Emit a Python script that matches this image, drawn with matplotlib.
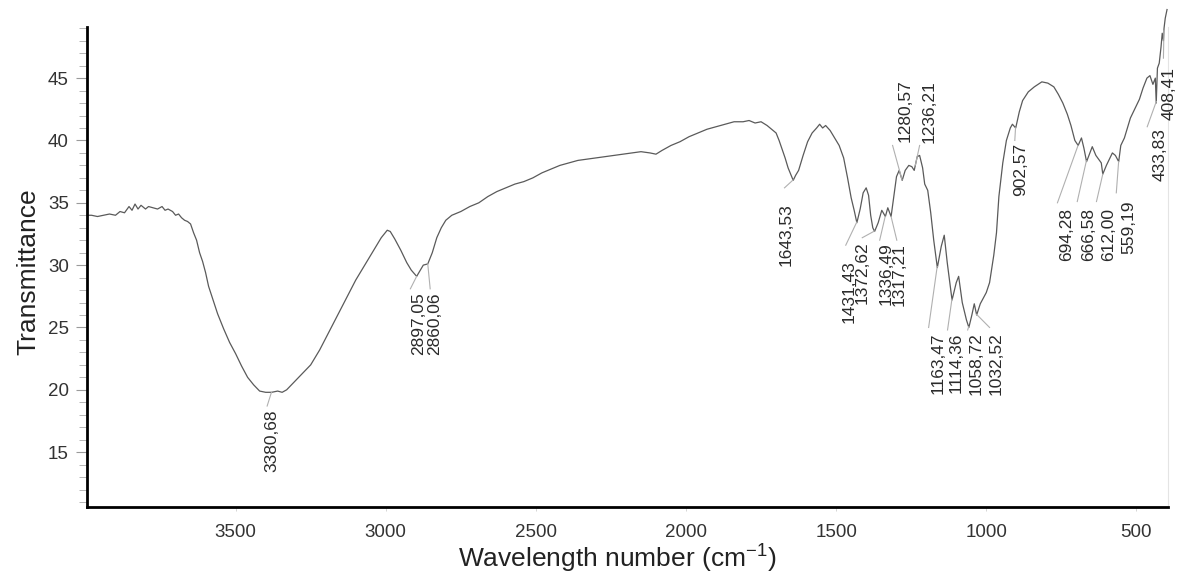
import numpy as np
import matplotlib
matplotlib.use("Agg")
import matplotlib.pyplot as plt
from matplotlib.ticker import MultipleLocator

plt.rcParams["font.family"] = ["Liberation Sans", "DejaVu Sans"]
plt.rcParams["mathtext.default"] = "regular"

# -----------------------------
# Spectrum
# -----------------------------
wavenumber = [
    3995, 3980, 3960, 3940, 3920, 3900, 3885, 3870, 3855, 3845, 3835, 3825, 3815, 3800,
    3790, 3775, 3760, 3745, 3735, 3725, 3710, 3700, 3690, 3680, 3670, 3660, 3650, 3640,
    3630, 3620, 3610, 3600, 3590, 3575, 3560, 3540, 3520, 3500, 3480, 3460, 3440, 3420,
    3400, 3380, 3360, 3345, 3330, 3310, 3290, 3270, 3250, 3220, 3190, 3160, 3130, 3100,
    3070, 3040, 3015, 2995, 2985, 2970, 2950, 2930, 2915, 2897, 2885, 2875, 2860, 2845,
    2830, 2815, 2800, 2780, 2750, 2720, 2690, 2660, 2630, 2600, 2570, 2540, 2510, 2480,
    2450, 2420, 2390, 2360, 2330, 2300, 2270, 2240, 2210, 2180, 2150, 2120, 2100, 2080,
    2050, 2020, 1990, 1960, 1930, 1900, 1870, 1840, 1810, 1790, 1770, 1750, 1730, 1715,
    1700, 1690, 1680, 1670, 1660, 1650, 1643, 1635, 1625, 1610, 1595, 1580, 1565, 1555,
    1545, 1535, 1520, 1505, 1490, 1475, 1462, 1450, 1440, 1431, 1420, 1410, 1400, 1392,
    1385, 1378, 1372, 1360, 1348, 1336, 1328, 1317, 1308, 1299, 1290, 1280, 1270, 1258,
    1248, 1240, 1230, 1222, 1212, 1205, 1195, 1185, 1175, 1163, 1150, 1140, 1130, 1114,
    1100, 1092, 1080, 1066, 1058, 1048, 1040, 1032, 1020, 1000, 989, 975, 966, 958,
    945, 933, 920, 913, 902, 890, 879, 860, 840, 815, 795, 775, 760, 745,
    730, 718, 705, 694, 683, 675, 666, 655, 647, 635, 617, 612, 600, 590,
    580, 570, 559, 552, 540, 530, 520, 510, 500, 490, 478, 465, 455, 445,
    437, 434, 430, 424, 418, 414, 410, 408, 404, 398,
]
transmittance = [
    34.0, 34.0, 33.9, 34.0, 34.1, 34.0, 34.3, 34.2, 34.7, 34.4, 34.9, 34.5, 34.8, 34.5,
    34.7, 34.6, 34.5, 34.7, 34.4, 34.5, 34.3, 34.0, 34.1, 33.8, 33.6, 33.5, 33.3, 32.6,
    32.0, 31.0, 30.3, 29.4, 28.3, 27.2, 26.1, 24.9, 23.8, 22.9, 21.9, 21.0, 20.4, 19.9,
    19.8, 19.8, 19.9, 19.8, 20.0, 20.5, 21.0, 21.5, 22.0, 23.2, 24.6, 26.0, 27.4, 28.8,
    30.0, 31.2, 32.2, 32.8, 32.7, 32.1, 31.2, 30.2, 29.6, 29.1, 29.6, 30.0, 30.1, 31.0,
    32.2, 33.0, 33.6, 34.0, 34.3, 34.7, 35.0, 35.5, 35.9, 36.2, 36.5, 36.7, 37.0, 37.4,
    37.7, 38.0, 38.2, 38.4, 38.5, 38.6, 38.7, 38.8, 38.9, 39.0, 39.1, 39.0, 38.9, 39.2,
    39.6, 39.9, 40.3, 40.6, 40.9, 41.1, 41.3, 41.5, 41.5, 41.6, 41.4, 41.5, 41.2, 40.9,
    40.6, 40.0, 39.3, 38.6, 37.8, 37.2, 36.8, 37.2, 37.6, 38.8, 39.9, 40.6, 41.0, 41.3,
    41.0, 41.2, 40.8, 40.2, 39.6, 38.6, 37.0, 35.4, 34.4, 33.4, 34.5, 35.8, 36.2, 35.6,
    34.0, 33.0, 32.7, 33.4, 34.4, 33.9, 34.6, 33.9, 35.5, 37.1, 37.6, 36.8, 37.6, 38.0,
    37.9, 37.6, 38.7, 38.8, 37.8, 36.5, 36.0, 34.2, 32.0, 29.8, 31.5, 32.4, 30.2, 27.2,
    28.6, 29.1, 27.0, 25.6, 25.0, 26.0, 26.9, 26.0, 26.9, 27.8, 28.6, 30.8, 32.6, 35.5,
    38.2, 40.0, 41.0, 41.3, 41.0, 42.3, 43.2, 43.9, 44.3, 44.7, 44.6, 44.3, 43.7, 43.0,
    42.1, 41.2, 40.0, 39.6, 40.2, 39.4, 38.3, 39.0, 39.5, 38.8, 38.2, 37.3, 38.0, 38.5,
    39.0, 38.8, 38.3, 39.6, 40.2, 41.0, 41.8, 42.3, 42.8, 43.3, 44.2, 45.0, 45.2, 44.5,
    45.0, 43.0, 45.8, 46.2, 47.5, 48.6, 48.0, 49.0, 49.8, 50.5,
]

# peak picks printed on the spectrum
peak_labels = ["3380,68", "2897,05", "2860,06", "1643,53", "1431,43", "1372,62", "1336,49",
               "1317,21", "1280,57", "1236,21", "1163,47", "1114,36", "1058,72", "1032,52",
               "902,57", "694,28", "666,58", "612,00", "559,19", "433,83", "408,41"]
peak_wn = [3380.68, 2897.05, 2860.06, 1643.53, 1431.43, 1372.62, 1336.49,
           1317.21, 1280.57, 1236.21, 1163.47, 1114.36, 1058.72, 1032.52,
           902.57, 694.28, 666.58, 612.00, 559.19, 433.83, 408.41]

# where each label sits (text x, text y, label above curve?) and where its leader ends
text_x = [3380, 2890, 2836, 1668, 1458, 1413, 1335, 1290, 1269, 1189, 1159, 1099, 1033, 966,
          886, 733, 660, 593, 527, 421, 392]
text_y = [18.4, 27.8, 27.8, 35.0, 30.4, 31.9, 31.8, 31.8, 39.9, 39.8, 24.6, 24.6, 24.6, 24.6,
          39.8, 34.6, 34.6, 34.6, 35.2, 41.0, 45.9]
above = [False, False, False, False, False, False, False, False, True, True, False, False,
         False, False, False, False, False, False, False, False, False]
lead_x = [3395, 2918, 2852, 1672, 1468, 1413, 1355, 1298, 1312, 1222, 1192, 1129, 1062, 989,
          905, 763, 697, 633, 567, 464, 410]
lead_y = [18.7, 28.1, 28.1, 36.2, 31.6, 32.2, 32.0, 32.0, 39.6, 39.6, 25.0, 24.8, 24.8, 25.0,
          40.0, 35.0, 35.1, 35.1, 35.8, 41.1, 46.6]

# -----------------------------
# Plot
# -----------------------------
fig = plt.figure(figsize=(11.77, 5.77), dpi=100)
ax = fig.add_axes([0.0739, 0.1213, 0.9184, 0.8319])

ax.plot(wavenumber, transmittance, color="#5a5a5a", lw=0.9, clip_on=False)

wn_asc = np.array(wavenumber[::-1], dtype=float)
tr_asc = np.array(transmittance[::-1], dtype=float)
for lab, wn, tx, ty, up, lx, ly in zip(peak_labels, peak_wn, text_x, text_y, above, lead_x, lead_y):
    y_curve = np.interp(wn, wn_asc, tr_asc)
    ax.plot([wn, lx], [y_curve, ly], color="#b0b0b0", lw=0.8, clip_on=False)
    ax.text(tx, ty, lab, rotation=90, ha="center", va="bottom" if up else "top",
            fontsize=12.5, color="#2a2a2a", clip_on=False)

ax.set_xlim(3995, 395)
ax.set_ylim(10.6, 49.1)
ax.set_xticks([3500, 3000, 2500, 2000, 1500, 1000, 500])
ax.yaxis.set_major_locator(MultipleLocator(5))
ax.yaxis.set_minor_locator(MultipleLocator(1))
ax.set_yticks([15, 20, 25, 30, 35, 40, 45])

ax.spines["top"].set_visible(False)
ax.spines["right"].set_color("#e4e4e4")
ax.spines["right"].set_linewidth(0.8)
ax.spines["left"].set_linewidth(2.0)
ax.spines["bottom"].set_linewidth(2.0)

ax.tick_params(axis="y", which="major", length=8, width=0.8, color="#9a9a9a",
               labelsize=13.5, labelcolor="#333333", pad=5)
ax.tick_params(axis="y", which="minor", length=6, width=0.7, color="#b5b5b5")
ax.tick_params(axis="x", which="major", length=3, width=0.6, color="#cfcfcf",
               labelsize=13.5, labelcolor="#333333", pad=9)

ax.set_ylabel("Transmittance", fontsize=19, color="#222222")
ax.yaxis.set_label_coords(-0.0435, 0.49)
ax.set_xlabel("Wavelength number (cm$^{-1}$)", fontsize=19, color="#222222")
ax.xaxis.set_label_coords(0.491, -0.075)

fig.savefig("out.png", dpi=100)
